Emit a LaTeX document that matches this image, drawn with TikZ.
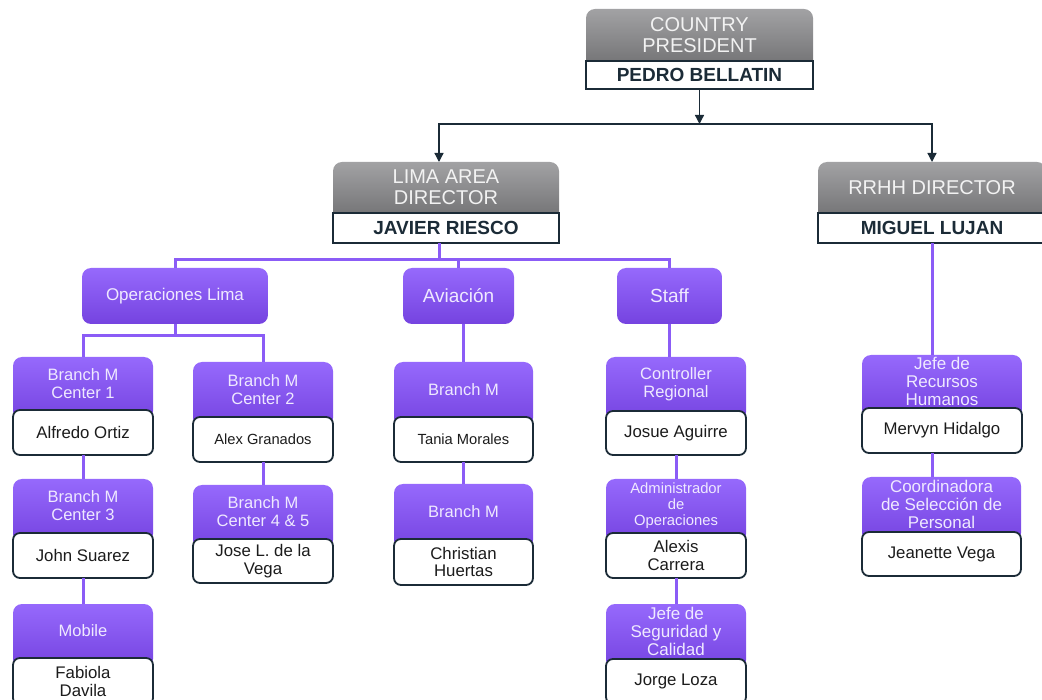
\documentclass[tikz,border=0pt]{standalone}
\usepackage{fontspec}
\setmainfont{Liberation Sans}
\usetikzlibrary{arrows.meta,backgrounds}
\definecolor{navy}{HTML}{1B2B37}
\definecolor{grayT}{HTML}{A2A2A4}
\definecolor{grayB}{HTML}{6E6E70}
\definecolor{purT}{HTML}{9669FC}
\definecolor{purB}{HTML}{7543E0}
\definecolor{purL}{HTML}{8B5CF6}
\definecolor{lav}{HTML}{EFE9FF}
\definecolor{htext}{HTML}{F2F2F2}
\definecolor{ntext}{HTML}{1C1C1C}
\tikzset{
  hdr/.style={inner sep=0pt, outer sep=0pt, align=center, text=htext,
    font=\fontsize{20}{21}\selectfont},
  topname/.style={draw=navy, line width=1.6pt, fill=white, inner sep=0pt, outer sep=0pt,
    text=navy, font=\bfseries\fontsize{19}{20}\selectfont},
  ptxt/.style={inner sep=0pt, outer sep=0pt, align=center, text=lav,
    font=\fontsize{16.5}{18}\selectfont},
  pboxstand/.style={ptxt, top color=purT, bottom color=purB, rounded corners=9pt},
  pname/.style={draw=navy, line width=1.8pt, fill=white, rounded corners=7pt,
    inner sep=0pt, outer sep=0pt, align=center, text=ntext,
    font=\fontsize{16.8}{17.5}\selectfont},
  smallname/.style={font=\fontsize{14.7}{16}\selectfont},
  pline/.style={draw=purL, line width=3pt},
  arr/.style={draw=navy, line width=1.3pt, -{Triangle[width=9pt,length=9pt]}}
}
\begin{document}
\begin{tikzpicture}[x=1pt,y=-1pt]
\useasboundingbox (0,0) rectangle (1042,700);

% top level
\node[hdr, minimum width=227, minimum height=52] (pres) at (699.5,35) {COUNTRY\\PRESIDENT};
\node[topname, minimum width=227, minimum height=28] (presN) at (699.5,75) {PEDRO BELLATIN};
\node[hdr, minimum width=226, minimum height=51] (lima) at (446,187.5) {LIMA AREA\\DIRECTOR};
\node[topname, minimum width=226, minimum height=30] (limaN) at (446,228) {JAVIER RIESCO};
\node[hdr, minimum width=228, minimum height=51] (rrhh) at (932,187.5) {RRHH DIRECTOR};
\node[topname, minimum width=228, minimum height=30] (rrhhN) at (932,228) {MIGUEL LUJAN};

% second level (standalone purple)
\node[pboxstand, minimum width=186, minimum height=56, font=\fontsize{17}{18}\selectfont] (op) at (175,296) {Operaciones Lima};
\node[pboxstand, minimum width=111, minimum height=56, font=\fontsize{19}{20}\selectfont] (av) at (458.5,296) {Aviación};
\node[pboxstand, minimum width=105, minimum height=56, font=\fontsize{19}{20}\selectfont] (staff) at (669.5,296) {Staff};

% Operaciones Lima branch
\node[ptxt, minimum width=140, minimum height=53] (c1) at (83,383.5) {Branch M\\Center 1};
\node[pname, minimum width=140, minimum height=45] (n1) at (83,432.5) {Alfredo Ortiz};
\node[ptxt, minimum width=140, minimum height=54] (c3) at (83,506) {Branch M\\Center 3};
\node[pname, minimum width=140, minimum height=45] (n3) at (83,555.5) {John Suarez};
\node[ptxt, minimum width=140, minimum height=54] (mob) at (83,631) {Mobile};
\node[pname, minimum width=140, minimum height=47] (nmob) at (83,681.5) {Fabiola\\Davila};

\node[ptxt, minimum width=140, minimum height=55] (c2) at (263,389.5) {Branch M\\Center 2};
\node[pname, smallname, minimum width=140, minimum height=45] (n2) at (263,439.5) {Alex Granados};
\node[ptxt, minimum width=140, minimum height=54] (c45) at (263,512) {Branch M\\Center 4 \& 5};
\node[pname, minimum width=140, minimum height=44] (n45) at (263,561) {Jose L. de la\\Vega};

% Aviacion branch
\node[ptxt, minimum width=139, minimum height=55] (a1) at (463.5,389.5) {Branch M};
\node[pname, smallname, minimum width=139, minimum height=45] (na1) at (463.5,439.5) {Tania Morales};
\node[ptxt, minimum width=139, minimum height=55] (a2) at (463.5,511.5) {Branch M};
\node[pname, minimum width=139, minimum height=46] (na2) at (463.5,562) {Christian\\Huertas};

% Staff branch
\node[ptxt, minimum width=140, minimum height=54] (cr) at (676,384) {Controller\\Regional};
\node[pname, minimum width=140, minimum height=44] (ncr) at (676,433) {Josue Aguirre};
\node[ptxt, minimum width=140, minimum height=54, font=\fontsize{14.8}{16}\selectfont] (adm) at (676,506) {Administrador\\de\\Operaciones};
\node[pname, minimum width=140, minimum height=45] (nadm) at (676,555.5) {Alexis\\Carrera};
\node[ptxt, minimum width=140, minimum height=55, font=\fontsize{17}{18}\selectfont] (seg) at (676,631.5) {Jefe de\\Seguridad y\\Calidad};
\node[pname, minimum width=140, minimum height=45] (nseg) at (676,681.5) {Jorge Loza};

% RRHH branch
\node[ptxt, minimum width=160, minimum height=53, font=\fontsize{17}{18}\selectfont] (jrh) at (942,381.5) {Jefe de\\Recursos\\Humanos};
\node[pname, minimum width=160, minimum height=45] (njrh) at (942,430.5) {Mervyn Hidalgo};
\node[ptxt, minimum width=159, minimum height=55, font=\fontsize{17}{18}\selectfont] (coord) at (941.5,504.5) {Coordinadora\\de Selección de\\Personal};
\node[pname, minimum width=159, minimum height=44] (ncoord) at (941.5,554) {Jeanette Vega};

% header backgrounds
\begin{scope}[on background layer]
\foreach \n in {pres,lima,rrhh}
  \path[top color=grayT, bottom color=grayB, rounded corners=9pt]
    (\n.north west) rectangle ([yshift=-10pt]\n.south east);
\foreach \n in {c1,c3,mob,c2,c45,a1,a2,cr,adm,seg,jrh,coord}
  \path[top color=purT, bottom color=purB, rounded corners=9pt]
    (\n.north west) rectangle ([yshift=-10pt]\n.south east);
\end{scope}

% black connectors
\coordinate (tj) at ([yshift=-35pt]presN.south);
\draw[arr] (presN.south) -- (tj);
\draw[arr] (tj) -| ([xshift=-7pt]lima.north);
\draw[arr] (tj) -| (rrhh.north);

% purple connectors
\coordinate (lj) at ([xshift=-7pt,yshift=-17pt]limaN.south);
\draw[pline] ([xshift=-7pt]limaN.south) -- (lj);
\draw[pline] (lj) -| (op.north);
\draw[pline] (lj) -| (staff.north);
\draw[pline] (lj -| av.north) -- (av.north);

\coordinate (oj) at ([yshift=-12pt]op.south);
\draw[pline] (op.south) -- (oj);
\draw[pline] (oj) -| (c1.north);
\draw[pline] (oj) -| (c2.north);
\draw[pline] (n1.south) -- (c3.north);
\draw[pline] (n3.south) -- (mob.north);
\draw[pline] (n2.south) -- (c45.north);

\draw[pline] (a1.north |- av.south) -- (a1.north);
\draw[pline] (na1.south) -- (a2.north);

\draw[pline] (staff.south) -- (staff.south |- cr.north);
\draw[pline] (ncr.south) -- (adm.north);
\draw[pline] (nadm.south) -- (seg.north);

\draw[pline] (rrhhN.south) -- (rrhhN.south |- jrh.north);
\draw[pline] ([xshift=-10pt]njrh.south) -- ([xshift=-10pt]njrh.south |- coord.north);
\end{tikzpicture}
\end{document}
